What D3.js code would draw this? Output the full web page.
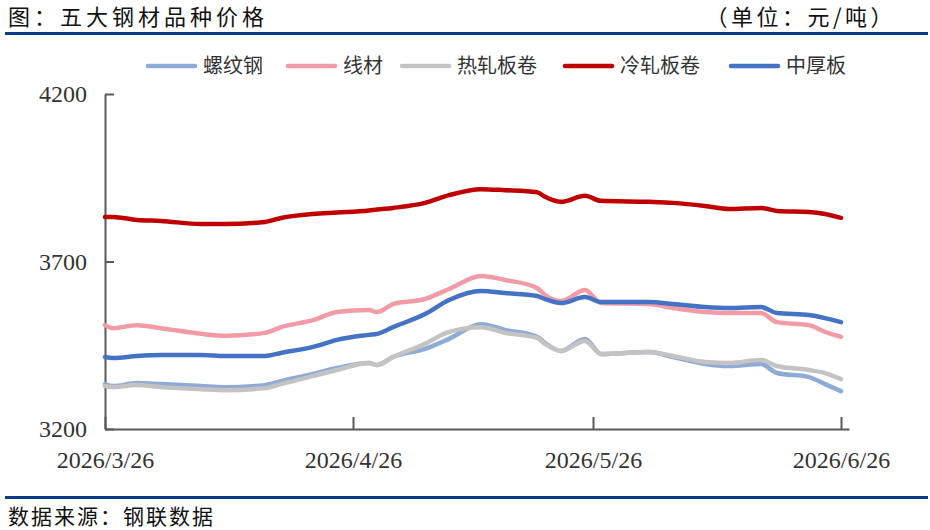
<!DOCTYPE html>
<html>
<head>
<meta charset="utf-8">
<script src="https://cdn.jsdelivr.net/npm/d3@7"></script>
<style>
  body { margin: 0; background: #fff; }
</style>
</head>
<body>
<div id="chart"></div>
<script>
// data
var dates = ["2026-03-26","2026-03-27","2026-03-30","2026-04-02","2026-04-07","2026-04-10","2026-04-15",
  "2026-04-17","2026-04-21","2026-04-24","2026-04-28","2026-04-29","2026-05-01","2026-05-05","2026-05-08",
  "2026-05-12","2026-05-15","2026-05-19","2026-05-20","2026-05-22","2026-05-25","2026-05-27","2026-06-02",
  "2026-06-05","2026-06-09","2026-06-12","2026-06-16","2026-06-18","2026-06-22","2026-06-24","2026-06-26"];
var rebar  = [3334,3328,3337,3334,3328,3325,3331,3343,3364,3382,3397,3391,3415,3439,3469,3513,3496,3475,3457,3433,3469,3424,3430,3415,3394,3388,3394,3367,3355,3334,3313];
var wire   = [3510,3501,3510,3501,3484,3478,3487,3504,3525,3549,3555,3549,3573,3588,3618,3657,3645,3621,3600,3582,3615,3576,3573,3561,3549,3546,3546,3519,3510,3490,3475];
var hotCoil= [3328,3325,3331,3325,3319,3316,3322,3334,3358,3376,3397,3391,3415,3454,3490,3504,3487,3472,3454,3433,3463,3424,3430,3418,3400,3397,3406,3388,3376,3367,3349];
var coldCoil=[3833,3833,3824,3821,3812,3812,3818,3830,3842,3846,3852,3855,3860,3875,3898,3916,3913,3907,3893,3878,3896,3881,3878,3875,3866,3857,3860,3851,3848,3842,3830];
var plate  = [3415,3412,3418,3421,3421,3418,3418,3427,3445,3466,3481,3484,3504,3543,3585,3612,3606,3597,3588,3576,3594,3579,3579,3573,3564,3561,3564,3546,3540,3531,3519];
var names  = ["螺纹钢","线材","热轧板卷","冷轧板卷","中厚板"];
var colors = ["#8eaad6","#f29ba7","#c3c3c3","#c00000","#4472c4"];
var yTicks = [3200,3700,4200];
var xTicks = ["2026-03-26","2026-04-26","2026-05-26","2026-06-26"];

var W = 930, H = 530;
var CJK = '"Noto Sans CJK SC", sans-serif';
var SERIF = '"Liberation Serif", "Times New Roman", serif';
var parse = d3.utcParse("%Y-%m-%d");
var fmt = function(d){ return d.getUTCFullYear()+"/"+(d.getUTCMonth()+1)+"/"+d.getUTCDate(); };

var svg = d3.select("#chart").append("svg")
  .attr("width", W).attr("height", H);

// header & footer
svg.append("text")
  .attr("x",8).attr("y",25)
  .style("font-family",CJK).style("font-size","22px").style("letter-spacing","4px").attr("fill","#111")
  .text("图：五大钢材品种价格");
svg.append("text")
  .attr("x",896).attr("y",25).attr("text-anchor","end")
  .style("font-family",CJK).style("font-size","22px").style("letter-spacing","3.5px").attr("fill","#111")
  .text("（单位：元/吨）");
svg.append("rect").attr("x",5).attr("y",32).attr("width",923).attr("height",3).attr("fill","#0b3a8c");
svg.append("rect").attr("x",5).attr("y",496).attr("width",923).attr("height",3).attr("fill","#0b3a8c");
svg.append("text")
  .attr("x",8).attr("y",524)
  .style("font-family",CJK).style("font-size","21px").style("letter-spacing","2px").attr("fill","#111")
  .text("数据来源：钢联数据");

// scales
var x = d3.scaleUtc()
  .domain([parse("2026-03-26"), parse("2026-06-27")])
  .range([105, 849]);
var y = d3.scaleLinear()
  .domain([3200, 4200])
  .range([429, 94]);

// axes
var xAxis = svg.append("g")
  .attr("transform","translate(0,429)")
  .call(d3.axisBottom(x)
    .tickValues(xTicks.map(parse))
    .tickFormat(fmt)
    .tickSizeInner(-12).tickSizeOuter(0).tickPadding(22));
var yAxis = svg.append("g")
  .attr("transform","translate(105,0)")
  .call(d3.axisLeft(y)
    .tickValues(yTicks)
    .tickFormat(d3.format("d"))
    .tickSizeInner(-9).tickSizeOuter(0).tickPadding(18));

[xAxis, yAxis].forEach(function(g){
  g.select(".domain").attr("stroke","#595959").attr("stroke-width",2);
  g.selectAll(".tick line").attr("stroke","#595959").attr("stroke-width",2);
  g.selectAll(".tick text")
    .style("font-family",SERIF).style("font-size","24px").attr("fill","#333");
});

// lines
var series = [rebar, wire, hotCoil, coldCoil, plate];
var line = d3.line()
  .x(function(d){ return x(d.date); })
  .y(function(d){ return y(d.value); })
  .curve(d3.curveMonotoneX);

series.forEach(function(vals, i){
  var pts = dates.map(function(d, j){ return {date: parse(d), value: vals[j]}; });
  svg.append("path")
    .datum(pts)
    .attr("fill","none")
    .attr("stroke", colors[i])
    .attr("stroke-width", 4.5)
    .attr("stroke-linejoin","round")
    .attr("stroke-linecap","round")
    .attr("d", line);
});

// legend
var legX = [148, 288, 402, 565, 731];
var leg = svg.append("g");
names.forEach(function(n, i){
  leg.append("line")
    .attr("x1", legX[i]).attr("x2", legX[i] + 47)
    .attr("y1", 66).attr("y2", 66)
    .attr("stroke", colors[i]).attr("stroke-width", 4.5).attr("stroke-linecap","round");
  leg.append("text")
    .attr("x", legX[i] + 55).attr("y", 73)
    .style("font-family",CJK).style("font-size","20px").attr("fill","#333")
    .text(n);
});
</script>
</body>
</html>
